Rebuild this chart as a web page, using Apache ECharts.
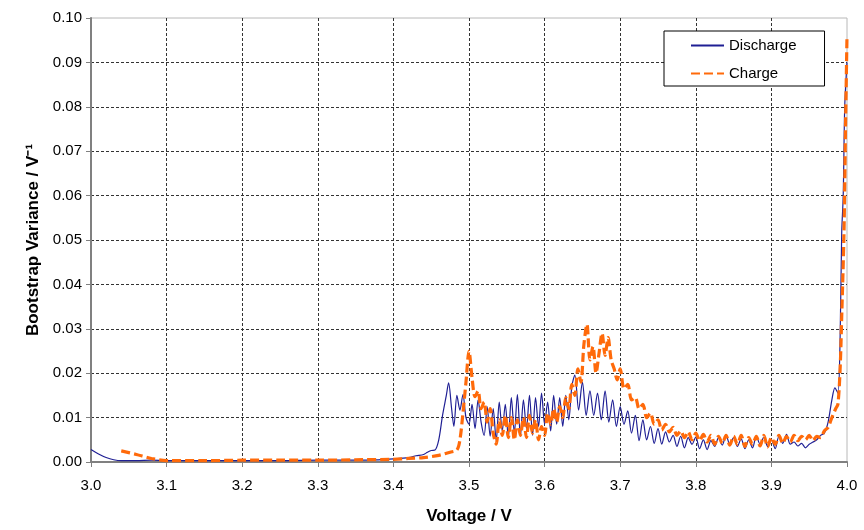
<!DOCTYPE html>
<html>
<head>
<meta charset="utf-8">
<script src="https://cdn.jsdelivr.net/npm/echarts@6/dist/echarts.min.js"></script>
<style>
    html, body { margin: 0; padding: 0; background: #fff; }
    #chart { width: 864px; height: 530px; }
</style>
</head>
<body>
<div id="chart"></div>
<script>
// Axis ticks
var xTicks = [3.0, 3.1, 3.2, 3.3, 3.4, 3.5, 3.6, 3.7, 3.8, 3.9, 4.0];
var yTicks = [0.00, 0.01, 0.02, 0.03, 0.04, 0.05, 0.06, 0.07, 0.08, 0.09, 0.10];

// Discharge curve [voltage, variance]
var discharge = [
    [3.000, 0.0028], [3.010, 0.0018], [3.020, 0.0010], [3.030, 0.0005], [3.040, 0.0003],
    [3.060, 0.0003], [3.080, 0.0004], [3.100, 0.0003], [3.150, 0.0003], [3.200, 0.0003],
    [3.250, 0.0003], [3.300, 0.0004], [3.350, 0.0004], [3.380, 0.0005], [3.400, 0.0007],
    [3.420, 0.0010], [3.430, 0.0014], [3.440, 0.0017], [3.445, 0.0022], [3.450, 0.0026],
    [3.455, 0.0027], [3.460, 0.0050], [3.465, 0.0105], [3.470, 0.0150], [3.473, 0.0178],
    [3.477, 0.0120], [3.480, 0.0080], [3.484, 0.0150], [3.488, 0.0117], [3.492, 0.0152],
    [3.496, 0.0100], [3.500, 0.0085], [3.504, 0.0130], [3.508, 0.0075], [3.512, 0.0140],
    [3.516, 0.0090], [3.520, 0.0060], [3.524, 0.0125], [3.528, 0.0058], [3.532, 0.0120],
    [3.536, 0.0048], [3.540, 0.0135], [3.544, 0.0070], [3.548, 0.0130], [3.552, 0.0055],
    [3.556, 0.0145], [3.560, 0.0065], [3.564, 0.0152], [3.568, 0.0058], [3.572, 0.0140],
    [3.576, 0.0075], [3.580, 0.0150], [3.584, 0.0060], [3.588, 0.0145], [3.592, 0.0080],
    [3.596, 0.0155], [3.600, 0.0085], [3.604, 0.0135], [3.608, 0.0070], [3.612, 0.0150],
    [3.616, 0.0085], [3.620, 0.0145], [3.624, 0.0080], [3.628, 0.0150], [3.632, 0.0095],
    [3.636, 0.0170], [3.640, 0.0196], [3.645, 0.0117], [3.650, 0.0180], [3.655, 0.0105],
    [3.660, 0.0160], [3.665, 0.0105], [3.670, 0.0155], [3.675, 0.0095], [3.680, 0.0160],
    [3.685, 0.0090], [3.690, 0.0140], [3.695, 0.0080], [3.700, 0.0125], [3.705, 0.0085],
    [3.710, 0.0115], [3.715, 0.0065], [3.720, 0.0105], [3.725, 0.0048], [3.730, 0.0095],
    [3.735, 0.0050], [3.740, 0.0080], [3.745, 0.0042], [3.750, 0.0075], [3.755, 0.0040],
    [3.760, 0.0068], [3.765, 0.0045], [3.770, 0.0060], [3.775, 0.0035], [3.780, 0.0058],
    [3.785, 0.0032], [3.790, 0.0055], [3.795, 0.0040], [3.800, 0.0056], [3.805, 0.0030],
    [3.810, 0.0050], [3.815, 0.0028], [3.820, 0.0048], [3.825, 0.0035], [3.830, 0.0055],
    [3.835, 0.0038], [3.840, 0.0060], [3.845, 0.0040], [3.850, 0.0055], [3.855, 0.0035],
    [3.860, 0.0052], [3.865, 0.0030], [3.870, 0.0050], [3.875, 0.0032], [3.880, 0.0058],
    [3.885, 0.0040], [3.890, 0.0056], [3.895, 0.0035], [3.900, 0.0050], [3.905, 0.0030],
    [3.910, 0.0058], [3.915, 0.0042], [3.920, 0.0062], [3.925, 0.0040], [3.930, 0.0045],
    [3.935, 0.0036], [3.940, 0.0042], [3.945, 0.0032], [3.950, 0.0040], [3.955, 0.0045],
    [3.960, 0.0050], [3.965, 0.0060], [3.970, 0.0065], [3.975, 0.0090], [3.980, 0.0140],
    [3.984, 0.0167], [3.988, 0.0155], [3.991, 0.0290], [3.993, 0.0516], [3.995, 0.0600],
    [3.997, 0.0800], [4.000, 0.0900]
];

// Charge curve [voltage, variance]
var charge = [
    [3.040, 0.0025], [3.060, 0.0017], [3.080, 0.0008], [3.100, 0.0003], [3.150, 0.0003],
    [3.200, 0.0004], [3.250, 0.0004], [3.300, 0.0004], [3.350, 0.0005], [3.400, 0.0006],
    [3.420, 0.0008], [3.440, 0.0010], [3.460, 0.0015], [3.475, 0.0022], [3.484, 0.0027],
    [3.488, 0.0050], [3.492, 0.0110], [3.496, 0.0180], [3.500, 0.0250], [3.504, 0.0190],
    [3.508, 0.0147], [3.512, 0.0160], [3.516, 0.0120], [3.520, 0.0135], [3.524, 0.0090],
    [3.528, 0.0120], [3.532, 0.0065], [3.536, 0.0040], [3.540, 0.0095], [3.544, 0.0060],
    [3.548, 0.0105], [3.552, 0.0055], [3.556, 0.0100], [3.560, 0.0050], [3.564, 0.0095],
    [3.568, 0.0060], [3.572, 0.0100], [3.576, 0.0055], [3.580, 0.0105], [3.584, 0.0065],
    [3.588, 0.0095], [3.592, 0.0050], [3.596, 0.0080], [3.600, 0.0060], [3.604, 0.0110],
    [3.608, 0.0085], [3.612, 0.0120], [3.616, 0.0090], [3.620, 0.0125], [3.624, 0.0100],
    [3.628, 0.0145], [3.632, 0.0120], [3.636, 0.0175], [3.640, 0.0150], [3.644, 0.0210],
    [3.648, 0.0180], [3.652, 0.0265], [3.656, 0.0310], [3.660, 0.0230], [3.664, 0.0260],
    [3.668, 0.0200], [3.672, 0.0245], [3.676, 0.0290], [3.680, 0.0240], [3.684, 0.0280],
    [3.688, 0.0230], [3.692, 0.0210], [3.696, 0.0185], [3.700, 0.0210], [3.705, 0.0165],
    [3.710, 0.0175], [3.715, 0.0140], [3.720, 0.0145], [3.725, 0.0120], [3.730, 0.0130],
    [3.735, 0.0100], [3.740, 0.0110], [3.745, 0.0085], [3.750, 0.0095], [3.755, 0.0072],
    [3.760, 0.0085], [3.765, 0.0068], [3.770, 0.0078], [3.775, 0.0060], [3.780, 0.0070],
    [3.785, 0.0055], [3.790, 0.0068], [3.795, 0.0050], [3.800, 0.0065], [3.805, 0.0048],
    [3.810, 0.0062], [3.815, 0.0045], [3.820, 0.0060], [3.825, 0.0040], [3.830, 0.0058],
    [3.835, 0.0042], [3.840, 0.0060], [3.845, 0.0038], [3.850, 0.0058], [3.855, 0.0040],
    [3.860, 0.0060], [3.865, 0.0035], [3.870, 0.0055], [3.875, 0.0040], [3.880, 0.0058],
    [3.885, 0.0036], [3.890, 0.0060], [3.895, 0.0034], [3.900, 0.0055], [3.905, 0.0040],
    [3.910, 0.0060], [3.915, 0.0042], [3.920, 0.0058], [3.925, 0.0045], [3.930, 0.0060],
    [3.935, 0.0048], [3.940, 0.0058], [3.945, 0.0050], [3.950, 0.0060], [3.955, 0.0048],
    [3.960, 0.0058], [3.965, 0.0055], [3.970, 0.0070], [3.975, 0.0078], [3.980, 0.0100],
    [3.985, 0.0120], [3.988, 0.0130], [3.991, 0.0214], [3.993, 0.0327], [3.996, 0.0516],
    [3.998, 0.0750], [4.000, 0.0960]
];

var chartElement = document.getElementById('chart');
var chart = echarts.init(chartElement);

chart.setOption({
    animation: false,
    backgroundColor: '#fff',
    textStyle: {
        fontFamily: 'Liberation Sans, Arial, sans-serif'
    },

    // Plot area, light border on top and right
    grid: {
        left: 91,
        right: 17,
        top: 18,
        bottom: 68,
        show: true,
        borderColor: '#b8b8b8',
        borderWidth: 1
    },

    legend: {
        orient: 'vertical',
        left: 664,
        top: 31,
        padding: [7, 28, 5, 26],
        itemGap: 13,
        itemWidth: 33,
        itemHeight: 14,
        itemStyle: { opacity: 0 },
        backgroundColor: '#fff',
        borderColor: '#000',
        borderWidth: 1,
        textStyle: {
            fontSize: 15,
            color: '#000'
        },
        data: ['Discharge', 'Charge']
    },

    xAxis: {
        type: 'value',
        min: xTicks[0],
        max: xTicks[xTicks.length - 1],
        interval: 0.1,
        name: 'Voltage / V',
        nameLocation: 'middle',
        nameGap: 46,
        nameTextStyle: {
            fontSize: 17,
            fontWeight: 'bold',
            color: '#000'
        },
        axisLine: {
            onZero: false,
            lineStyle: { color: '#808080', width: 2 }
        },
        axisTick: {
            length: 5,
            lineStyle: { color: '#808080', width: 1 }
        },
        axisLabel: {
            fontSize: 15,
            color: '#000',
            margin: 16,
            formatter: function (v) { return v.toFixed(1); }
        },
        splitLine: {
            show: true,
            showMinLine: false,
            showMaxLine: false,
            lineStyle: { color: '#333', type: [3, 2], width: 1 }
        }
    },

    yAxis: {
        type: 'value',
        min: yTicks[0],
        max: yTicks[yTicks.length - 1],
        interval: 0.01,
        name: 'Bootstrap Variance / V\u207B\u00B9',
        nameLocation: 'middle',
        nameGap: 47,
        nameTextStyle: {
            fontSize: 17,
            fontWeight: 'bold',
            color: '#000'
        },
        axisLine: {
            show: true,
            lineStyle: { color: '#808080', width: 2 }
        },
        axisTick: {
            show: true,
            length: 5,
            lineStyle: { color: '#808080', width: 1 }
        },
        axisLabel: {
            fontSize: 15,
            color: '#000',
            margin: 9,
            formatter: function (v) { return v.toFixed(2); }
        },
        splitLine: {
            show: true,
            showMinLine: false,
            showMaxLine: false,
            lineStyle: { color: '#333', type: [3, 2], width: 1 }
        }
    },

    series: [
        {
            name: 'Discharge',
            type: 'line',
            data: discharge,
            symbol: 'none',
            smooth: 0.3,
            color: '#1f1f94',
            lineStyle: { color: '#1f1f94', width: 1.2 }
        },
        {
            name: 'Charge',
            type: 'line',
            data: charge,
            symbol: 'none',
            smooth: 0.3,
            color: '#ff6a0a',
            lineStyle: { color: '#ff6a0a', width: 3.2, type: [9, 4] }
        }
    ]
});
</script>
</body>
</html>
